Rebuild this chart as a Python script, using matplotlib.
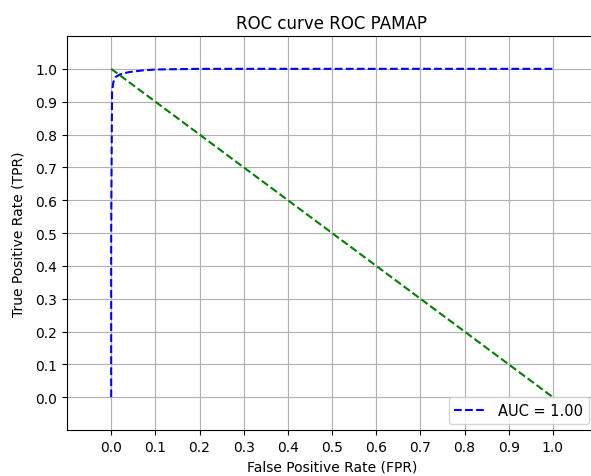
import numpy as np
import matplotlib
matplotlib.use("Agg")
import matplotlib.pyplot as plt

fpr = [0.0, 0.0, 0.002, 0.005, 0.01, 0.02, 0.04, 0.07, 0.1, 0.2, 0.5, 1.0]
tpr = [0.0, 0.5, 0.93, 0.96, 0.975, 0.983, 0.99, 0.995, 0.998, 1.0, 1.0, 1.0]
auc_label = 'AUC = 1.00'

# Diagonal de referencia
ref_x = [0, 1]
ref_y = [1, 0]

ticks = np.arange(0, 1.01, 0.1)

fig = plt.figure(figsize=(5.91, 4.77), dpi=100)
ax = fig.add_axes([67 / 591, 46 / 477, 530 / 591, 394 / 477])

ax.plot(fpr, tpr, 'b--', label=auc_label)
ax.plot(ref_x, ref_y, 'g--')
ax.set_xlim(-0.1, 1.1)
ax.set_ylim(-0.1, 1.1)
ax.set_xticks(ticks)
ax.set_yticks(ticks)
ax.set_xticklabels(['%.1f' % t for t in ticks])
ax.set_yticklabels(['%.1f' % t for t in ticks])
ax.grid(True)
ax.set_title('ROC curve ROC PAMAP', fontsize=12)
ax.set_xlabel('False Positive Rate (FPR)')
ax.set_ylabel('True Positive Rate (TPR)', labelpad=7)
# la leyenda queda dentro de la parte visible de la figura
ax.legend(loc='lower right', bbox_to_anchor=(589 / 591, 52 / 477),
          bbox_transform=fig.transFigure, borderaxespad=0.0,
          fontsize=10.5, handlelength=2.2)

fig.savefig('out.png', dpi=100)
